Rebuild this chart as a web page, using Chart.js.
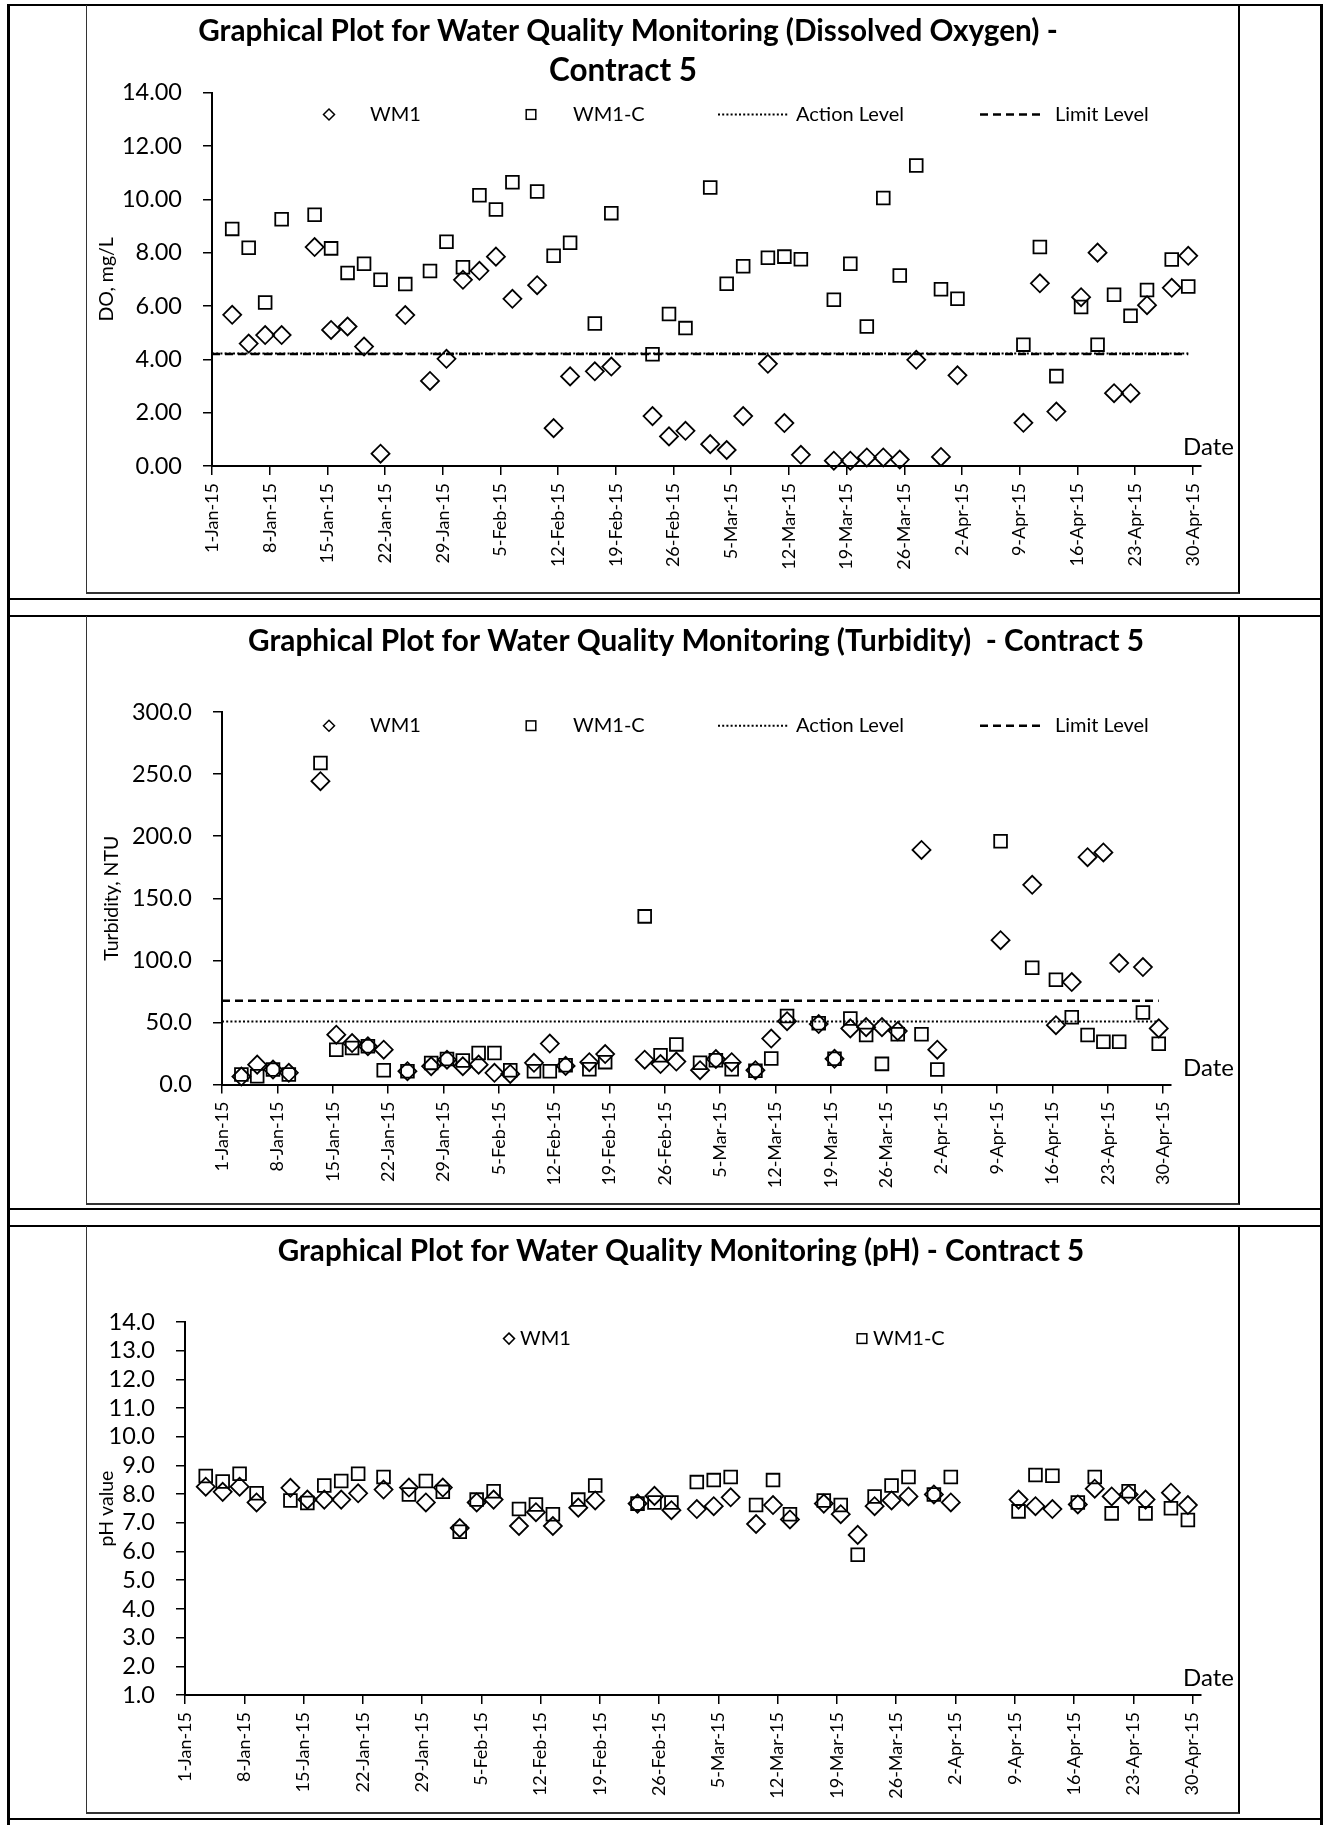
<!DOCTYPE html>
<html>
<head>
<meta charset="utf-8">
<title>Water Quality Monitoring - Contract 5</title>
<script src="https://cdn.jsdelivr.net/npm/chart.js@4.4.1/dist/chart.umd.min.js"></script>
<style>
  html, body { margin:0; padding:0; background:#fff; }
  body { position:relative; width:1325px; height:1825px; overflow:hidden; }
  .ln { position:absolute; background:#000; }
  .box { position:absolute; box-sizing:border-box; border-left:1.5px solid #333; border-bottom:2px solid #333; border-right:2px solid #000; }
  canvas { position:absolute; }
</style>
</head>
<body>
<div class="ln" style="left:7px;top:4px;width:1316px;height:2px"></div>
<div class="ln" style="left:7px;top:4px;width:2.5px;height:1821px"></div>
<div class="ln" style="left:1320px;top:4px;width:2.5px;height:1821px"></div>
<div class="ln" style="left:7px;top:598px;width:1316px;height:2px"></div>
<div class="ln" style="left:7px;top:615px;width:1316px;height:2px"></div>
<div class="ln" style="left:7px;top:1208px;width:1316px;height:2px"></div>
<div class="ln" style="left:7px;top:1225px;width:1316px;height:2px"></div>
<div class="ln" style="left:7px;top:1818px;width:1316px;height:2px"></div>

<div class="box" style="left:86px;top:5px;width:1154px;height:589px"></div>
<div class="box" style="left:86px;top:616px;width:1154px;height:589px"></div>
<div class="box" style="left:86px;top:1226px;width:1154px;height:588px"></div>

<canvas id="doChart" width="1151" height="587" style="left:87px;top:6px"></canvas>
<canvas id="turbChart" width="1151" height="587" style="left:87px;top:617px"></canvas>
<canvas id="phChart" width="1151" height="586" style="left:87px;top:1227px"></canvas>

<script>
// ---------------- data ----------------
const MONTHS = {Jan:0, Feb:1, Mar:2, Apr:3, May:4};
const tickLabels = ['1-Jan-15','8-Jan-15','15-Jan-15','22-Jan-15','29-Jan-15','5-Feb-15','12-Feb-15',
  '19-Feb-15','26-Feb-15','5-Mar-15','12-Mar-15','19-Mar-15','26-Mar-15','2-Apr-15','9-Apr-15',
  '16-Apr-15','23-Apr-15','30-Apr-15'];
const axisEndLabel = '1-May-15';

const sampleDates = ['3-Jan-15','5-Jan-15','7-Jan-15','9-Jan-15','13-Jan-15','15-Jan-15','17-Jan-15',
  '19-Jan-15','21-Jan-15','24-Jan-15','27-Jan-15','29-Jan-15','31-Jan-15','2-Feb-15','4-Feb-15',
  '6-Feb-15','9-Feb-15','11-Feb-15','13-Feb-15','16-Feb-15','18-Feb-15','23-Feb-15','25-Feb-15',
  '27-Feb-15','2-Mar-15','4-Mar-15','6-Mar-15','9-Mar-15','11-Mar-15','13-Mar-15','17-Mar-15',
  '19-Mar-15','21-Mar-15','23-Mar-15','25-Mar-15','27-Mar-15','30-Mar-15','1-Apr-15','9-Apr-15',
  '11-Apr-15','13-Apr-15','16-Apr-15','18-Apr-15','20-Apr-15','22-Apr-15','24-Apr-15','27-Apr-15',
  '29-Apr-15'];
const sampleHour = 10.8;   // approximate time of day of sampling
const turbidityDates = sampleDates.filter(d => d !== '11-Apr-15');

// Dissolved oxygen, mg/L
const doWM1 = [5.67,4.59,4.91,4.91,8.21,5.10,5.23,4.48,0.46,5.66,3.19,4.02,6.98,7.32,7.85,6.27,
  6.78,1.42,3.36,3.55,3.73,1.87,1.11,1.32,0.82,0.60,1.87,3.83,1.61,0.42,0.20,0.20,0.32,0.32,0.24,
  3.98,0.34,3.40,1.62,6.85,2.04,6.33,8.00,2.73,2.73,6.03,6.68,7.88];
const doWM1C = [8.89,8.18,6.13,9.25,9.42,8.16,7.24,7.58,6.98,6.82,7.31,8.41,7.45,10.15,9.62,10.64,
  10.29,7.88,8.37,5.34,9.48,4.19,5.70,5.17,10.44,6.83,7.49,7.81,7.85,7.75,6.23,7.58,5.23,10.05,
  7.14,11.27,6.63,6.27,4.55,8.21,3.37,5.96,4.55,6.42,5.63,6.60,7.74,6.73];
const doAction = 4.22;
const doLimit = 4.20;
const doYTicks = ['0.00','2.00','4.00','6.00','8.00','10.00','12.00','14.00'];

// Turbidity, NTU
const turbWM1 = [6.4,16.0,12.0,9.4,244.3,40.1,33.4,30.8,28.0,10.7,14.7,20.0,14.7,16.0,9.4,8.5,
  17.5,33.0,15.0,18.0,24.5,20.0,16.5,18.5,11.5,20.5,18.0,11.5,37.0,51.0,48.7,20.7,45.2,46.2,46.2,
  43.0,188.9,28.0,116.2,160.8,47.8,82.5,183.1,186.9,97.8,94.6,45.2];
const turbWM1C = [8.0,6.7,12.0,8.0,258.9,28.0,29.4,30.8,11.5,10.7,17.4,20.5,19.3,25.4,25.4,11.5,
  10.7,10.7,15.5,12.3,18.0,135.4,23.5,32.3,17.5,19.5,12.3,11.0,21.0,55.1,49.4,20.7,53.2,39.8,16.6,
  40.4,40.4,12.1,195.9,94.0,84.4,54.1,39.8,34.4,34.4,58.0,32.8];
const turbAction = 50.8;
const turbLimit = 67.5;
const turbYTicks = ['0.0','50.0','100.0','150.0','200.0','250.0','300.0'];

// pH
const phWM1 = [8.26,8.08,8.26,7.71,8.22,7.81,7.81,7.81,8.03,8.16,8.23,7.71,8.23,6.82,7.71,7.81,
  6.89,7.37,6.89,7.53,7.78,7.67,7.94,7.44,7.48,7.58,7.89,6.96,7.62,7.12,7.67,7.30,6.58,7.58,7.78,
  7.92,7.99,7.71,7.81,7.58,7.48,7.64,8.19,7.92,7.99,7.81,8.05,7.62];
const phWM1C = [8.63,8.44,8.71,8.03,7.78,7.69,8.30,8.46,8.71,8.60,7.99,8.46,8.08,6.69,7.81,8.10,
  7.48,7.64,7.30,7.81,8.30,7.67,7.71,7.71,8.42,8.49,8.60,7.62,8.49,7.30,7.78,7.62,5.89,7.92,8.30,
  8.60,7.99,8.60,7.40,8.67,8.64,7.71,8.60,7.33,8.10,7.33,7.51,7.10];
const phYTicks = ['1.0','2.0','3.0','4.0','5.0','6.0','7.0','8.0','9.0','10.0','11.0','12.0','13.0','14.0'];

// ---------------- drawing ----------------
const FONT = 'Lato, "Open Sans", "DejaVu Sans", sans-serif';

function dayIndex(label) {
  const [d, m, y] = label.split('-');
  return (Date.UTC(2000 + Number(y), MONTHS[m], Number(d)) - Date.UTC(2015, 0, 1)) / 86400000;
}

const decor = {
  id: 'decor',
  afterDraw(chart, args, opts) {
    const ctx = chart.ctx;
    ctx.save();
    ctx.fillStyle = '#000';
    ctx.strokeStyle = '#000';
    // titles
    (opts.titles || []).forEach(t => {
      ctx.font = `bold 100px ${FONT}`;
      const size = 100 * t.fitWidth / ctx.measureText(t.text).width;
      ctx.font = `bold ${size}px ${FONT}`;
      ctx.textAlign = 'center';
      ctx.textBaseline = 'middle';
      ctx.fillText(t.text, t.x, t.y);
    });
    // legend (from datasets)
    const lg = opts.legend;
    if (lg) {
      chart.data.datasets.forEach((ds, i) => {
        const it = lg.items[i];
        if (!it) return;
        const y = lg.y;
        ctx.setLineDash([]);
        ctx.lineWidth = 1.5;
        if (ds.showLine) {
          ctx.lineWidth = ds.borderWidth;
          ctx.setLineDash(ds.borderDash || []);
          ctx.beginPath(); ctx.moveTo(it.x0, y); ctx.lineTo(it.x1, y); ctx.stroke();
          ctx.setLineDash([]);
        } else if (ds.pointStyle === 'rectRot') {
          const r = 5.5;
          ctx.beginPath();
          ctx.moveTo(it.x0 - r, y); ctx.lineTo(it.x0, y - r);
          ctx.lineTo(it.x0 + r, y); ctx.lineTo(it.x0, y + r); ctx.closePath();
          ctx.stroke();
        } else {
          const s = 4.8;
          ctx.strokeRect(it.x0 - s, y - s, 2 * s, 2 * s);
        }
        ctx.font = `${lg.size}px ${FONT}`;
        ctx.textAlign = 'left';
        ctx.textBaseline = 'middle';
        ctx.fillText(ds.label, it.tx, y);
      });
    }
    // "Date" label
    if (opts.date) {
      ctx.font = `24px ${FONT}`;
      ctx.textAlign = 'left';
      ctx.textBaseline = 'middle';
      ctx.fillText('Date', opts.date.x, opts.date.y);
    }
    ctx.restore();
  }
};

function makeChart(canvasId, cfg) {
  const canvas = document.getElementById(canvasId);
  const W = canvas.width, H = canvas.height;
  const xMin = dayIndex(tickLabels[0]);
  const xMax = dayIndex(axisEndLabel);
  const xs = cfg.dates.map(d => dayIndex(d) + sampleHour / 24);
  const lastX = xs[xs.length - 1];

  const pointDs = (label, values, style) => ({
    label,
    data: values.map((v, i) => ({x: xs[i], y: v})),
    pointStyle: style,
    pointRadius: 9,
    pointHoverRadius: 9,
    pointBorderColor: '#000',
    pointBackgroundColor: 'rgba(0,0,0,0)',
    pointBorderWidth: 1.8,
    borderColor: '#000',
    backgroundColor: 'rgba(0,0,0,0)',
    showLine: false,
    clip: false
  });
  const lineDs = (label, level, dash, width) => ({
    label,
    data: [{x: xMin, y: level}, {x: lastX, y: level}],
    showLine: true,
    borderColor: '#000',
    backgroundColor: '#000',
    borderWidth: width,
    borderDash: dash,
    pointRadius: 0,
    pointHoverRadius: 0,
    fill: false,
    clip: false
  });

  const datasets = [pointDs('WM1', cfg.wm1, 'rectRot'), pointDs('WM1-C', cfg.wm1c, 'rect')];
  if (cfg.action !== undefined) datasets.push(lineDs('Action Level', cfg.action, [2, 2.2], 2));
  if (cfg.limit !== undefined) datasets.push(lineDs('Limit Level', cfg.limit, [8, 5], 2.5));

  const area = cfg.area;
  const yt = cfg.yTicks;
  return new Chart(canvas, {
    type: 'scatter',
    data: {datasets},
    plugins: [decor],
    options: {
      responsive: false,
      animation: false,
      events: [],
      layout: {padding: {left: 0, top: area.top, right: W - area.right, bottom: 0}},
      plugins: {
        legend: {display: false},
        tooltip: {enabled: false},
        decor: {titles: cfg.titles, legend: cfg.legend, date: cfg.date}
      },
      scales: {
        x: {
          type: 'linear',
          min: xMin,
          max: xMax,
          afterBuildTicks: s => { s.ticks = tickLabels.map(l => ({value: dayIndex(l)})); },
          afterFit: s => { s.height = H - area.bottom; },
          ticks: {
            autoSkip: false, maxRotation: 90, minRotation: 90, padding: 8, color: '#000',
            font: {family: FONT, size: 18},
            callback: (v, i) => tickLabels[i]
          },
          grid: {drawOnChartArea: false, drawTicks: true, tickLength: 9, color: '#000', lineWidth: 1.5},
          border: {display: true, color: '#000', width: 2}
        },
        y: {
          type: 'linear',
          min: parseFloat(yt[0]),
          max: parseFloat(yt[yt.length - 1]),
          afterBuildTicks: s => { s.ticks = yt.map(t => ({value: parseFloat(t)})); },
          afterFit: s => { s.width = area.left; },
          ticks: {
            autoSkip: false, padding: 21, color: '#000',
            font: {family: FONT, size: 23.5},
            callback: (v, i) => yt[i]
          },
          grid: {drawOnChartArea: false, drawTicks: true, tickLength: 9, color: '#000', lineWidth: 1.5},
          border: {display: true, color: '#000', width: 2},
          title: {
            display: true, text: cfg.yTitle, color: '#000',
            font: {family: FONT, size: 19.5},
            padding: {top: cfg.yTitlePad, bottom: 0}
          }
        }
      }
    }
  });
}

const fourLegend = {
  y: 108.7, size: 20,
  items: [{x0: 242, tx: 283}, {x0: 444, tx: 486}, {x0: 631, x1: 701, tx: 709}, {x0: 893, x1: 955, tx: 968}]
};

makeChart('doChart', {
  dates: sampleDates, wm1: doWM1, wm1c: doWM1C, action: doAction, limit: doLimit,
  yTicks: doYTicks, yTitle: 'DO, mg/L', yTitlePad: 8.3,
  area: {left: 125, right: 1114, top: 86.6, bottom: 460},
  titles: [
    {text: 'Graphical Plot for Water Quality Monitoring (Dissolved Oxygen) -', x: 541, y: 25.4, fitWidth: 860},
    {text: 'Contract 5', x: 536, y: 64.8, fitWidth: 148}
  ],
  legend: {y: 108.5, size: 20, items: fourLegend.items},
  date: {x: 1096, y: 441}
});

makeChart('turbChart', {
  dates: turbidityDates, wm1: turbWM1, wm1c: turbWM1C, action: turbAction, limit: turbLimit,
  yTicks: turbYTicks, yTitle: 'Turbidity, NTU', yTitlePad: 13.3,
  area: {left: 135, right: 1084, top: 95, bottom: 467.5},
  titles: [
    {text: 'Graphical Plot for Water Quality Monitoring (Turbidity)  - Contract 5', x: 609, y: 24.5, fitWidth: 896}
  ],
  legend: fourLegend,
  date: {x: 1096, y: 451}
});

makeChart('phChart', {
  dates: sampleDates, wm1: phWM1, wm1c: phWM1C,
  yTicks: phYTicks, yTitle: 'pH value', yTitlePad: 8.3,
  area: {left: 98, right: 1114, top: 95, bottom: 468},
  titles: [
    {text: 'Graphical Plot for Water Quality Monitoring (pH) - Contract 5', x: 594, y: 24, fitWidth: 807}
  ],
  legend: {y: 111.6, size: 20, items: [{x0: 422, tx: 433}, {x0: 775, tx: 786}]},
  date: {x: 1096, y: 451}
});
</script>
</body>
</html>
